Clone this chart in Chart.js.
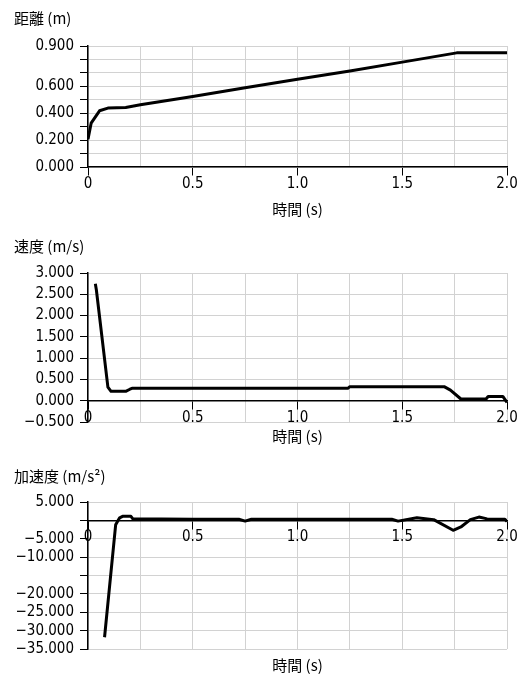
<!DOCTYPE html>
<html lang="ja">
<head>
<meta charset="utf-8">
<title>距離・速度・加速度</title>
<script src="https://cdn.jsdelivr.net/npm/chart.js@4.4.1/dist/chart.umd.min.js"></script>
<style>
    html, body { margin: 0; padding: 0; background: #fff; }
    body { width: 519px; height: 675px; position: relative; overflow: hidden; }
    canvas { position: absolute; left: 0; }
</style>
</head>
<body>
<canvas id="distChart" width="519" height="222" style="top:0"></canvas>
<canvas id="velChart" width="519" height="225" style="top:222px"></canvas>
<canvas id="accChart" width="519" height="228" style="top:447px"></canvas>

<script>
const timeTickLabels = ["0", "0.5", "1.0", "1.5", "2.0"];

// 距離 (m)
const distTimes = [0, 0.015, 0.055, 0.095, 0.18, 0.25, 0.5, 0.75, 1.0, 1.25, 1.5, 1.76, 2.0];
const distValues = [0.207, 0.326, 0.418, 0.438, 0.443, 0.463, 0.525, 0.59, 0.652, 0.714, 0.78, 0.849, 0.849];
const distTickLabels = ["0.000", "0.200", "0.400", "0.600", "0.900"];

// 速度 (m/s)
const velTimes = [0.035, 0.04, 0.095, 0.11, 0.18, 0.2, 0.21, 1.24, 1.25, 1.7, 1.73, 1.78, 1.9, 1.91, 1.98, 2.0];
const velValues = [2.75, 2.6, 0.32, 0.22, 0.22, 0.27, 0.29, 0.29, 0.33, 0.33, 0.25, 0.04, 0.04, 0.1, 0.1, -0.04];
const velTickLabels = ["−0.500", "0.000", "0.500", "1.000", "1.500", "2.000", "2.500", "3.000"];

// 加速度 (m/s²)
const accTimes = [0.079, 0.132, 0.151, 0.165, 0.205, 0.215, 0.35, 0.5, 0.72, 0.75, 0.78, 1.0, 1.45, 1.48, 1.57, 1.65, 1.743, 1.78, 1.825, 1.866, 1.905, 1.99, 2.0];
const accValues = [-31.8, -1.2, 0.7, 1.1, 1.1, 0.35, 0.4, 0.3, 0.3, -0.2, 0.3, 0.3, 0.3, -0.2, 0.7, 0.2, -2.7, -1.8, 0.2, 0.9, 0.4, 0.3, -0.3];
const accTickLabels = ["5.000", "−5.000", "−10.000", "−20.000", "−25.000", "−30.000", "−35.000"];

const numFont = {
    family: "'Liberation Sans Narrow', 'DejaVu Sans Condensed', 'Liberation Sans', sans-serif",
    size: 15
};
const jpFont = { family: "'Noto Sans CJK JP', sans-serif", size: 15, weight: "normal" };
const gridColor = "#d2d2d2";

function formatTick(value) {
    return value.toFixed(3).replace("-", "−");
}

function drawPlot(id, opts) {
    const points = opts.times.map((t, i) => ({ x: t, y: opts.values[i] }));

    new Chart(document.getElementById(id), {
        type: "line",

        data: {
            datasets: [
                {
                    data: points,
                    borderColor: "#000",
                    borderWidth: 3,
                    borderJoinStyle: "round",
                    pointRadius: 0,
                    fill: false,
                    tension: 0
                }
            ]
        },

        options: {
            responsive: false,
            animation: false,
            devicePixelRatio: 1,

            layout: {
                padding: { left: 14, right: 12, top: 0, bottom: 0 }
            },

            plugins: {
                legend: { display: false },
                tooltip: { enabled: false },
                title: {
                    display: true,
                    text: opts.title,
                    align: "start",
                    color: "#000",
                    font: jpFont,
                    padding: { top: opts.titleTop, bottom: opts.titleBottom }
                }
            },

            scales: {
                x: {
                    type: "linear",
                    position: { y: 0 },
                    min: 0,
                    max: 2,
                    ticks: {
                        stepSize: 0.25,
                        autoSkip: false,
                        maxRotation: 0,
                        padding: 0,
                        color: "#000",
                        font: numFont,
                        callback: value => value % 0.5 === 0 ? timeTickLabels[value / 0.5] : ""
                    },
                    grid: {
                        color: gridColor,
                        tickLength: 8,
                        tickColor: ctx => (ctx.tick && ctx.tick.value % 0.5 === 0) ? "#000" : "rgba(0,0,0,0)"
                    },
                    border: { color: "#000", width: 1.5 }
                },

                xTitle: {
                    type: "linear",
                    axis: "x",
                    position: "bottom",
                    ticks: { display: false },
                    grid: { display: false },
                    border: { display: false },
                    title: {
                        display: true,
                        text: "時間 (s)",
                        color: "#000",
                        font: jpFont,
                        padding: { top: 0, bottom: opts.xTitleBottom }
                    },
                    afterFit: scale => { scale.height = opts.xTitleHeight; }
                },

                y: {
                    min: opts.yMin,
                    max: opts.yMax,
                    afterFit: scale => { scale.width = 74; },
                    ticks: {
                        stepSize: opts.yStep,
                        autoSkip: false,
                        padding: 6,
                        color: "#000",
                        font: numFont,
                        callback: value => {
                            const s = formatTick(value);
                            return opts.yLabels.includes(s) ? s : "";
                        }
                    },
                    grid: { color: gridColor, tickLength: 8, tickColor: "#000" },
                    border: { color: "#000", width: 1.5 }
                }
            }
        }
    });
}

drawPlot("distChart", {
    title: "距離 (m)",
    times: distTimes,
    values: distValues,
    yMin: 0, yMax: 0.9, yStep: 0.1,
    yLabels: distTickLabels,
    titleTop: 9, titleBottom: 19,
    xTitleHeight: 55, xTitleBottom: 4
});

drawPlot("velChart", {
    title: "速度 (m/s)",
    times: velTimes,
    values: velValues,
    yMin: -0.5, yMax: 3, yStep: 0.5,
    yLabels: velTickLabels,
    titleTop: 15, titleBottom: 18,
    xTitleHeight: 25, xTitleBottom: 2
});

drawPlot("accChart", {
    title: "加速度 (m/s²)",
    times: accTimes,
    values: accValues,
    yMin: -35, yMax: 5, yStep: 5,
    yLabels: accTickLabels,
    titleTop: 20, titleBottom: 17,
    xTitleHeight: 26, xTitleBottom: 1
});
</script>
</body>
</html>
